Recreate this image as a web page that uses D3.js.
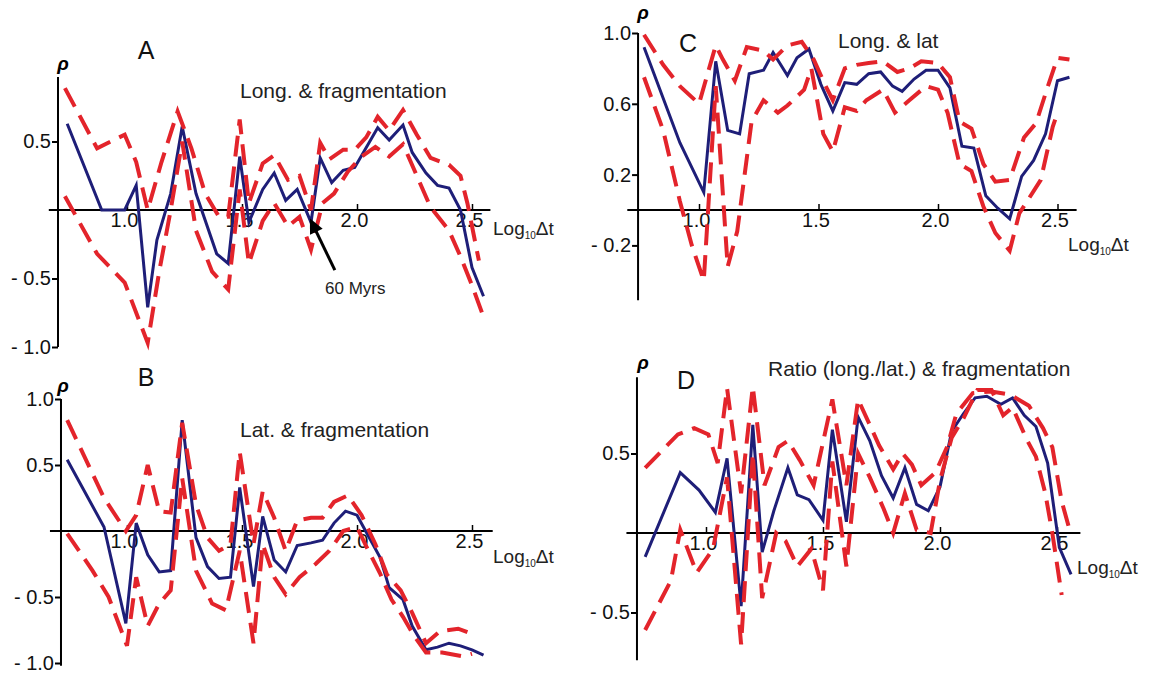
<!DOCTYPE html>
<html>
<head>
<meta charset="utf-8">
<script src="https://cdn.jsdelivr.net/npm/d3@7"></script>
<style>
  body { margin: 0; background: #fff; }
  svg { font-family: Arial, "Liberation Sans", sans-serif; }
</style>
</head>
<body>
<script>
// ---- data: [log10 dt, rho] ----
var aMean = [[0.74,0.63],[0.89,0],[0.99,0],[1.04,0.18],[1.09,-0.71],[1.13,-0.22],[1.19,0.12],[1.24,0.61],[1.30,0.12],[1.39,-0.32],[1.44,-0.39],[1.49,0.39],[1.53,-0.09],[1.59,0.15],[1.64,0.27],[1.69,0.07],[1.74,0.15],[1.80,-0.09],[1.84,0.38],[1.89,0.20],[1.94,0.29],[1.99,0.31],[2.09,0.60],[2.14,0.51],[2.20,0.62],[2.24,0.42],[2.30,0.27],[2.35,0.18],[2.40,0.16],[2.45,0],[2.50,-0.42],[2.55,-0.63]];
var aUpper = [[0.73,0.89],[0.87,0.45],[0.99,0.55],[1.04,0.35],[1.09,0.0],[1.15,0.35],[1.22,0.72],[1.28,0.45],[1.34,0.12],[1.40,-0.05],[1.44,-0.05],[1.49,0.66],[1.53,0.05],[1.59,0.34],[1.64,0.40],[1.70,0.22],[1.75,0.25],[1.80,0.0],[1.84,0.49],[1.88,0.37],[1.94,0.44],[1.99,0.44],[2.04,0.53],[2.09,0.68],[2.14,0.58],[2.20,0.73],[2.26,0.55],[2.32,0.38],[2.40,0.33],[2.45,0.25],[2.48,0.05],[2.53,-0.37]];
var aLower = [[0.73,0.10],[0.87,-0.32],[0.99,-0.53],[1.09,-0.97],[1.14,-0.45],[1.19,0.0],[1.24,0.50],[1.30,-0.15],[1.37,-0.45],[1.44,-0.58],[1.49,0.15],[1.53,-0.39],[1.59,-0.08],[1.64,0.05],[1.70,-0.12],[1.75,-0.05],[1.80,-0.29],[1.85,0.05],[1.90,0.12],[1.96,0.28],[2.02,0.39],[2.08,0.46],[2.14,0.39],[2.20,0.48],[2.26,0.25],[2.32,0.02],[2.40,-0.15],[2.45,-0.34],[2.50,-0.55],[2.55,-0.78]];

var bMean = [[0.74,0.54],[0.90,0.03],[0.995,-0.70],[1.04,0.06],[1.09,-0.18],[1.14,-0.31],[1.19,-0.30],[1.24,0.84],[1.30,-0.05],[1.35,-0.27],[1.40,-0.36],[1.45,-0.35],[1.49,0.33],[1.55,-0.42],[1.59,0.11],[1.64,-0.22],[1.69,-0.31],[1.74,-0.11],[1.80,-0.09],[1.85,-0.07],[1.90,0.06],[1.95,0.15],[2.0,0.12],[2.05,-0.04],[2.10,-0.20],[2.14,-0.43],[2.20,-0.52],[2.24,-0.72],[2.30,-0.90],[2.35,-0.88],[2.40,-0.85],[2.45,-0.87],[2.50,-0.90],[2.55,-0.94]];
var bUpper = [[0.74,0.84],[0.90,0.25],[0.995,0.0],[1.04,0.12],[1.09,0.50],[1.14,0.15],[1.19,0.14],[1.24,0.82],[1.30,0.2],[1.35,-0.05],[1.40,-0.15],[1.45,-0.1],[1.49,0.60],[1.55,-0.1],[1.59,0.30],[1.64,0.1],[1.69,-0.15],[1.74,0.08],[1.80,0.10],[1.85,0.10],[1.90,0.22],[1.96,0.27],[2.02,0.12],[2.08,-0.1],[2.13,-0.33],[2.19,-0.45],[2.24,-0.62],[2.30,-0.85],[2.36,-0.76],[2.44,-0.74],[2.50,-0.78]];
var bLower = [[0.74,-0.02],[0.85,-0.30],[0.92,-0.50],[1.0,-0.87],[1.04,-0.35],[1.09,-0.72],[1.14,-0.55],[1.19,-0.45],[1.24,0.4],[1.30,-0.3],[1.37,-0.55],[1.43,-0.6],[1.49,-0.15],[1.55,-0.85],[1.59,-0.1],[1.64,-0.35],[1.69,-0.48],[1.75,-0.35],[1.82,-0.25],[1.88,-0.15],[1.94,0.0],[2.0,0.03],[2.05,-0.15],[2.10,-0.32],[2.15,-0.52],[2.20,-0.65],[2.25,-0.8],[2.30,-0.92],[2.37,-0.92],[2.46,-0.95],[2.50,-0.93]];

var cMean = [[0.77,0.92],[0.92,0.38],[1.02,0.10],[1.07,0.84],[1.12,0.45],[1.17,0.43],[1.21,0.77],[1.27,0.79],[1.31,0.89],[1.37,0.76],[1.41,0.86],[1.46,0.91],[1.51,0.71],[1.56,0.56],[1.61,0.72],[1.66,0.71],[1.71,0.77],[1.76,0.78],[1.81,0.70],[1.85,0.67],[1.90,0.74],[1.95,0.79],[2.0,0.79],[2.05,0.69],[2.10,0.36],[2.15,0.35],[2.20,0.08],[2.25,0.01],[2.30,-0.05],[2.35,0.19],[2.40,0.28],[2.45,0.43],[2.50,0.73],[2.55,0.75]];
var cUpper = [[0.77,0.99],[0.85,0.82],[0.92,0.70],[1.0,0.60],[1.07,0.93],[1.10,0.85],[1.15,0.73],[1.20,0.92],[1.27,0.90],[1.31,0.85],[1.37,0.93],[1.43,0.95],[1.48,0.85],[1.53,0.70],[1.56,0.62],[1.61,0.80],[1.66,0.82],[1.71,0.83],[1.77,0.84],[1.83,0.78],[1.88,0.80],[1.93,0.84],[2.0,0.83],[2.05,0.75],[2.09,0.50],[2.14,0.46],[2.19,0.26],[2.24,0.16],[2.30,0.17],[2.36,0.41],[2.41,0.49],[2.46,0.70],[2.50,0.86],[2.55,0.85]];
var cLower = [[0.77,0.75],[0.85,0.45],[0.92,0.05],[0.97,-0.2],[1.02,-0.40],[1.07,0.70],[1.12,-0.32],[1.16,-0.12],[1.22,0.50],[1.27,0.62],[1.33,0.55],[1.37,0.59],[1.44,0.68],[1.47,0.80],[1.52,0.43],[1.56,0.33],[1.61,0.58],[1.66,0.56],[1.70,0.62],[1.77,0.68],[1.82,0.55],[1.88,0.62],[1.95,0.70],[2.0,0.68],[2.04,0.55],[2.09,0.26],[2.14,0.22],[2.19,0.02],[2.24,-0.13],[2.30,-0.23],[2.34,-0.02],[2.43,0.17],[2.48,0.47],[2.50,0.55]];

var dMean = [[0.74,-0.15],[0.89,0.38],[0.97,0.27],[1.04,0.13],[1.09,0.47],[1.15,-0.46],[1.20,0.68],[1.24,-0.12],[1.29,0.14],[1.35,0.41],[1.39,0.24],[1.44,0.21],[1.50,0.08],[1.54,0.65],[1.60,0.07],[1.65,0.73],[1.70,0.58],[1.75,0.36],[1.80,0.22],[1.85,0.41],[1.90,0.18],[1.95,0.14],[2.0,0.29],[2.05,0.64],[2.10,0.75],[2.15,0.85],[2.20,0.86],[2.26,0.81],[2.31,0.85],[2.36,0.74],[2.41,0.67],[2.46,0.44],[2.51,-0.09],[2.56,-0.26]];
var dUpper = [[0.74,0.41],[0.88,0.62],[0.95,0.66],[1.01,0.62],[1.05,0.44],[1.09,0.91],[1.15,0.25],[1.20,0.92],[1.25,0.30],[1.31,0.54],[1.35,0.58],[1.40,0.46],[1.46,0.3],[1.54,0.84],[1.60,0.30],[1.65,0.84],[1.70,0.68],[1.74,0.55],[1.80,0.40],[1.84,0.50],[1.88,0.43],[1.92,0.30],[1.98,0.38],[2.03,0.54],[2.07,0.75],[2.14,0.88],[2.22,0.89],[2.30,0.87],[2.38,0.80],[2.44,0.66],[2.48,0.54],[2.52,0.20],[2.55,0.04]];
var dLower = [[0.74,-0.61],[0.85,-0.30],[0.89,0.02],[0.96,-0.25],[1.03,-0.1],[1.09,0.35],[1.15,-0.70],[1.20,0.5],[1.24,-0.41],[1.30,0.0],[1.34,-0.05],[1.39,-0.21],[1.45,-0.1],[1.50,-0.36],[1.54,0.45],[1.60,-0.21],[1.65,0.5],[1.70,0.35],[1.76,0.15],[1.80,0.0],[1.85,0.25],[1.90,0.02],[1.96,0.0],[2.0,0.33],[2.05,0.6],[2.10,0.72],[2.16,0.90],[2.22,0.90],[2.27,0.74],[2.31,0.79],[2.37,0.59],[2.41,0.48],[2.45,0.25],[2.48,0.0],[2.52,-0.39]];

var xTicks = [1.0, 1.5, 2.0, 2.5];
var aYTicks = [0.5, -0.5, -1.0];
var bYTicks = [1.0, 0.5, -0.5, -1.0];
var cYTicks = [1.0, 0.6, 0.2, -0.2];
var dYTicks = [0.5, -0.5];

var letters = ["A", "B", "C", "D"];
var titles = ["Long. & fragmentation", "Lat. & fragmentation", "Long. & lat", "Ratio (long./lat.) & fragmentation"];

// ---- layout ----
var panels = [
  { mean: aMean, upper: aUpper, lower: aLower, yTicks: aYTicks,
    xr: [127, 357], yr: [210, 73], yAxisAt: 0.70, ySpan: [0.97, -1.0], xSpan: [0.66, 2.58],
    letter: [146, 59], title: [240, 98], rho: [63, 70], log: [493, 235] },
  { mean: bMean, upper: bUpper, lower: bLower, yTicks: bYTicks,
    xr: [127, 357], yr: [531, 399], yAxisAt: 0.713, ySpan: [1.0, -1.02], xSpan: [0.665, 2.59],
    letter: [146, 386], title: [240, 437], rho: [63, 392], log: [493, 563] },
  { mean: cMean, upper: cUpper, lower: cLower, yTicks: cYTicks,
    xr: [699, 938], yr: [210, 33], yAxisAt: 0.745, ySpan: [1.0, -0.51], xSpan: [0.70, 2.58],
    letter: [688, 52], title: [838, 48], rho: [643, 19], log: [1068, 251] },
  { mean: dMean, upper: dUpper, lower: dLower, yTicks: dYTicks,
    xr: [706, 940], yr: [533, 374], yAxisAt: 0.705, ySpan: [0.98, -0.80], xSpan: [0.66, 2.60],
    letter: [686, 389], title: [768, 376], rho: [643, 369], log: [1077, 574] }
];

var BLUE = "#1e1e78";
var RED = "#e3242b";

var svg = d3.select("body").append("svg")
  .attr("width", 1149)
  .attr("height", 676);

function tickFmt(d) {
  return d < 0 ? "- " + d3.format(".1f")(-d) : d3.format(".1f")(d);
}

function drawPanel(p, i) {
  var x = d3.scaleLinear().domain([1, 2]).range(p.xr);
  var y = d3.scaleLinear().domain([0, 1]).range(p.yr);
  var g = svg.append("g");

  var line = d3.line()
    .x(function (d) { return x(d[0]); })
    .y(function (d) { return y(d[1]); });

  // axes lines
  g.append("line")
    .attr("x1", x(p.xSpan[0])).attr("x2", x(p.xSpan[1]))
    .attr("y1", y(0)).attr("y2", y(0))
    .attr("stroke", "#000").attr("stroke-width", 2);
  g.append("line")
    .attr("x1", x(p.yAxisAt)).attr("x2", x(p.yAxisAt))
    .attr("y1", y(p.ySpan[0])).attr("y2", y(p.ySpan[1]))
    .attr("stroke", "#000").attr("stroke-width", 2);

  var xAxis = g.append("g")
    .attr("transform", "translate(0," + y(0) + ")")
    .call(d3.axisBottom(x).tickValues(xTicks).tickSize(-6).tickPadding(3)
      .tickFormat(d3.format(".1f")));
  xAxis.select(".domain").remove();
  xAxis.selectAll("line").attr("stroke-width", 1.5);
  xAxis.selectAll("text").attr("font-size", 20).attr("fill", "#111")
    .attr("font-family", "Arial, 'Liberation Sans', sans-serif").attr("dx", -3);

  var yAxis = g.append("g")
    .attr("transform", "translate(" + x(p.yAxisAt) + ",0)")
    .call(d3.axisLeft(y).tickValues(p.yTicks).tickSize(6).tickPadding(1).tickFormat(tickFmt));
  yAxis.select(".domain").remove();
  yAxis.selectAll("line").attr("stroke-width", 2);
  yAxis.selectAll("text").attr("font-size", 20).attr("fill", "#111")
    .attr("font-family", "Arial, 'Liberation Sans', sans-serif");

  // series
  g.append("path").datum(p.mean)
    .attr("d", line).attr("fill", "none")
    .attr("stroke", BLUE).attr("stroke-width", 3).attr("stroke-linejoin", "miter");
  [p.upper, p.lower].forEach(function (s) {
    g.append("path").datum(s)
      .attr("d", line).attr("fill", "none")
      .attr("stroke", RED).attr("stroke-width", 4)
      .attr("stroke-dasharray", "21,10");
  });

  // texts
  g.append("text").attr("x", p.letter[0]).attr("y", p.letter[1])
    .attr("text-anchor", "middle").attr("font-size", 25).attr("fill", "#111").text(letters[i]);
  g.append("text").attr("x", p.title[0]).attr("y", p.title[1])
    .attr("font-size", 21).attr("fill", "#222").text(titles[i]);
  g.append("text").attr("x", p.rho[0]).attr("y", p.rho[1])
    .attr("text-anchor", "middle").attr("font-size", 19)
    .attr("font-style", "italic").attr("font-weight", "bold").text("ρ");
  var lg = g.append("text").attr("x", p.log[0]).attr("y", p.log[1])
    .attr("font-size", 19).attr("fill", "#222");
  lg.append("tspan").text("Log");
  lg.append("tspan").attr("font-size", 10).attr("dy", 4).text("10");
  lg.append("tspan").attr("dy", -4).text("Δt");

  return { x: x, y: y, g: g };
}

var drawn = panels.map(drawPanel);

// annotation in panel A: 60 Myrs arrow
var pa = drawn[0];
var tipX = pa.x(1.795), tipY = pa.y(-0.06);
var tailX = tipX + 25, tailY = tipY + 52;
var ang = Math.atan2(tipY - tailY, tipX - tailX);
var hl = 15, hw = 7;
pa.g.append("line")
  .attr("x1", tailX).attr("y1", tailY)
  .attr("x2", tipX - Math.cos(ang) * hl * 0.8).attr("y2", tipY - Math.sin(ang) * hl * 0.8)
  .attr("stroke", "#000").attr("stroke-width", 3);
var bx = tipX - Math.cos(ang) * hl, by = tipY - Math.sin(ang) * hl;
pa.g.append("polygon")
  .attr("points", [
    [tipX, tipY],
    [bx + Math.sin(ang) * hw, by - Math.cos(ang) * hw],
    [bx - Math.sin(ang) * hw, by + Math.cos(ang) * hw]
  ].map(function (d) { return d.join(","); }).join(" "))
  .attr("fill", "#000");
pa.g.append("text").attr("x", 325).attr("y", 294).attr("font-size", 17).attr("fill", "#222").text("60 Myrs");
</script>
</body>
</html>
